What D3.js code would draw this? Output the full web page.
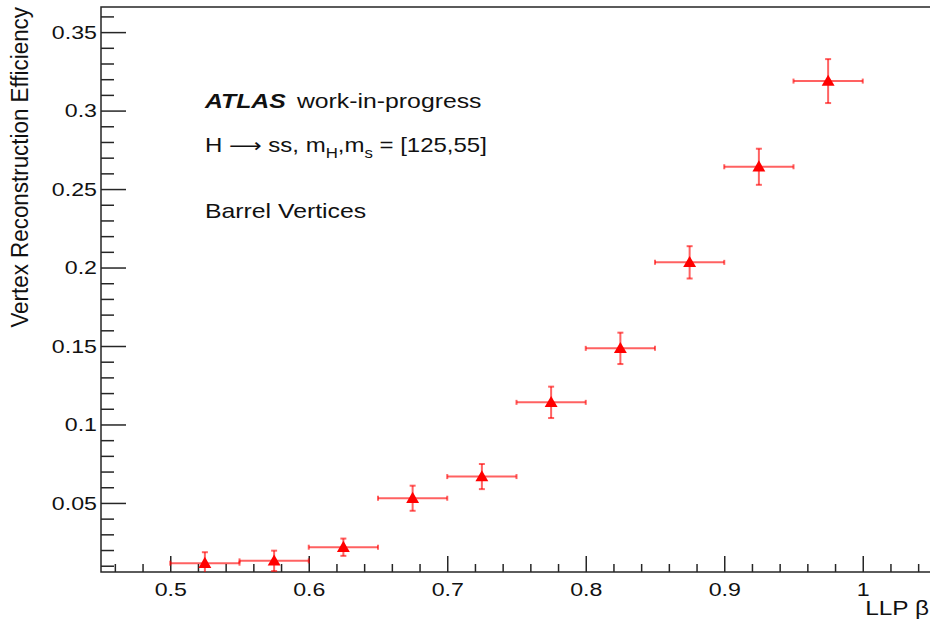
<!DOCTYPE html>
<html lang="en">
<head>
<meta charset="utf-8">
<title>Vertex Reconstruction Efficiency vs LLP beta</title>
<script src="https://d3js.org/d3.v7.min.js"></script>
<style>
  body { margin: 0; background: #fff; }
  svg { display: block; font-family: "Liberation Sans", Arial, Helvetica, sans-serif; }
</style>
</head>
<body>
<svg width="930" height="624"></svg>
<script>
// bin centres of LLP beta, half bin width 0.025
const binCentres = [0.525, 0.575, 0.625, 0.675, 0.725, 0.775, 0.825, 0.875, 0.925, 0.975];
const binHalfWidth = 0.025;
const efficiency = [0.0116, 0.0131, 0.0218, 0.0530, 0.0668, 0.1141, 0.1485, 0.2033, 0.2642, 0.3188];
const effError = [0.0070, 0.0065, 0.0055, 0.0080, 0.0080, 0.0100, 0.0100, 0.0103, 0.0115, 0.0140];

const xMajorTicks = [0.5, 0.6, 0.7, 0.8, 0.9, 1.0];
const xTickLabels = ["0.5", "0.6", "0.7", "0.8", "0.9", "1"];
const yMajorTicks = [0.05, 0.1, 0.15, 0.2, 0.25, 0.3, 0.35];
const yTickLabels = ["0.05", "0.1", "0.15", "0.2", "0.25", "0.3", "0.35"];

const svg = d3.select("svg"),
    fLeft = 101, fRight = 932, fTop = 7, fBottom = 572,
    sx = 1.22; // text in the picture is a bit wide

svg.append("rect").attr("width", 930).attr("height", 624).attr("fill", "#fff");

const x = d3.scaleLinear().domain([0.45, 1.05]).range([fLeft, fRight]);
const y = d3.scaleLinear().domain([0.006, 0.366]).range([fBottom, fTop]);

svg.append("defs").append("clipPath").attr("id", "frame")
    .append("rect").attr("x", fLeft).attr("y", fTop)
    .attr("width", fRight - fLeft).attr("height", fBottom - fTop);

// minor ticks
const xMinor = d3.range(0.46, 1.05, 0.02).map(v => +v.toFixed(2))
    .filter(v => Math.abs(v * 10 - Math.round(v * 10)) > 1e-6);
const yMinor = d3.range(0.01, 0.366, 0.01).map(v => +v.toFixed(2))
    .filter(v => Math.abs(v * 20 - Math.round(v * 20)) > 1e-6);

const axisColor = "#262626";

svg.append("g")
    .attr("transform", "translate(0," + fBottom + ")")
    .call(d3.axisBottom(x).tickValues(xMinor).tickSize(-8).tickSizeOuter(0).tickFormat(""))
    .call(g => g.select(".domain").remove());

svg.append("g")
    .attr("transform", "translate(0," + fBottom + ")")
    .call(d3.axisBottom(x).tickValues(xMajorTicks).tickSize(-16).tickSizeOuter(0).tickPadding(11)
        .tickFormat((d, i) => xTickLabels[i]))
    .call(g => g.select(".domain").remove());

svg.append("g")
    .attr("transform", "translate(" + fLeft + ",0)")
    .call(d3.axisLeft(y).tickValues(yMinor).tickSize(-13).tickSizeOuter(0).tickFormat(""))
    .call(g => g.select(".domain").remove());

svg.append("g")
    .attr("transform", "translate(" + fLeft + ",0)")
    .call(d3.axisLeft(y).tickValues(yMajorTicks).tickSize(-25).tickSizeOuter(0).tickPadding(3.3)
        .tickFormat((d, i) => yTickLabels[i]))
    .call(g => g.select(".domain").remove());

svg.selectAll(".tick line").attr("stroke", axisColor).attr("stroke-width", 1.5);
svg.selectAll(".tick text")
    .attr("font-family", "'Liberation Sans', Arial, sans-serif")
    .attr("font-size", 19)
    .attr("fill", "#111")
    .attr("transform", "scale(" + sx + ",1)");

// frame
svg.append("rect")
    .attr("x", fLeft).attr("y", fTop)
    .attr("width", fRight - fLeft).attr("height", fBottom - fTop)
    .attr("fill", "none").attr("stroke", axisColor).attr("stroke-width", 1.5);

// axis titles
svg.append("text")
    .attr("transform", "translate(929,615) scale(" + sx + ",1)")
    .attr("text-anchor", "end")
    .attr("font-size", 20).attr("fill", "#111")
    .text("LLP β");

svg.append("text")
    .attr("transform", "translate(28,7) rotate(-90) scale(1.12," + sx + ")")
    .attr("text-anchor", "end")
    .attr("font-size", 20).attr("fill", "#111")
    .text("Vertex Reconstruction Efficiency");

// labels
const lab = svg.append("g").attr("fill", "#111").attr("font-size", 20);

const l1 = lab.append("text").attr("transform", "translate(205,108) scale(1.24,1)");
l1.append("tspan").attr("font-weight", "bold").attr("font-style", "italic").text("ATLAS");
l1.append("tspan").attr("dx", 9).text("work-in-progress");

const l2 = lab.append("text").attr("transform", "translate(205,152) scale(1.2,1)");
l2.append("tspan").text("H ");
l2.append("tspan").attr("font-family", "'DejaVu Sans', sans-serif").attr("font-size", 19).text("\u27F6");
l2.append("tspan").text(" ss, m");
l2.append("tspan").attr("font-size", 14).attr("dy", 6).text("H");
l2.append("tspan").attr("dy", -6).text(",m");
l2.append("tspan").attr("font-size", 14).attr("dy", 6).text("s");
l2.append("tspan").attr("dy", -6).text(" = [125,55]");

lab.append("text").attr("transform", "translate(205,218) scale(1.24,1)").text("Barrel Vertices");

// data points
const pts = binCentres.map((c, i) => ({ c: c, v: efficiency[i], e: effError[i] }));
const plot = svg.append("g").attr("clip-path", "url(#frame)");

const bars = plot.append("g")
    .attr("stroke", "#ff0000").attr("stroke-opacity", 0.62).attr("stroke-width", 2)
    .selectAll("g").data(pts).join("g");

bars.append("line")
    .attr("x1", d => x(d.c - binHalfWidth)).attr("x2", d => x(d.c + binHalfWidth))
    .attr("y1", d => y(d.v)).attr("y2", d => y(d.v));
bars.append("line")
    .attr("x1", d => x(d.c)).attr("x2", d => x(d.c))
    .attr("y1", d => y(d.v - d.e)).attr("y2", d => y(d.v + d.e));
// end caps
bars.append("line")
    .attr("x1", d => x(d.c - binHalfWidth)).attr("x2", d => x(d.c - binHalfWidth))
    .attr("y1", d => y(d.v) - 2.5).attr("y2", d => y(d.v) + 2.5);
bars.append("line")
    .attr("x1", d => x(d.c + binHalfWidth)).attr("x2", d => x(d.c + binHalfWidth))
    .attr("y1", d => y(d.v) - 2.5).attr("y2", d => y(d.v) + 2.5);
bars.append("line")
    .attr("x1", d => x(d.c) - 3).attr("x2", d => x(d.c) + 3)
    .attr("y1", d => y(d.v + d.e)).attr("y2", d => y(d.v + d.e));
bars.append("line")
    .attr("x1", d => x(d.c) - 3).attr("x2", d => x(d.c) + 3)
    .attr("y1", d => y(d.v - d.e)).attr("y2", d => y(d.v - d.e));

plot.append("g").selectAll("path").data(pts).join("path")
    .attr("d", d3.symbol(d3.symbolTriangle, 72))
    .attr("transform", d => "translate(" + x(d.c) + "," + (y(d.v) + 1) + ")")
    .attr("fill", "#ff0000");
</script>
</body>
</html>
